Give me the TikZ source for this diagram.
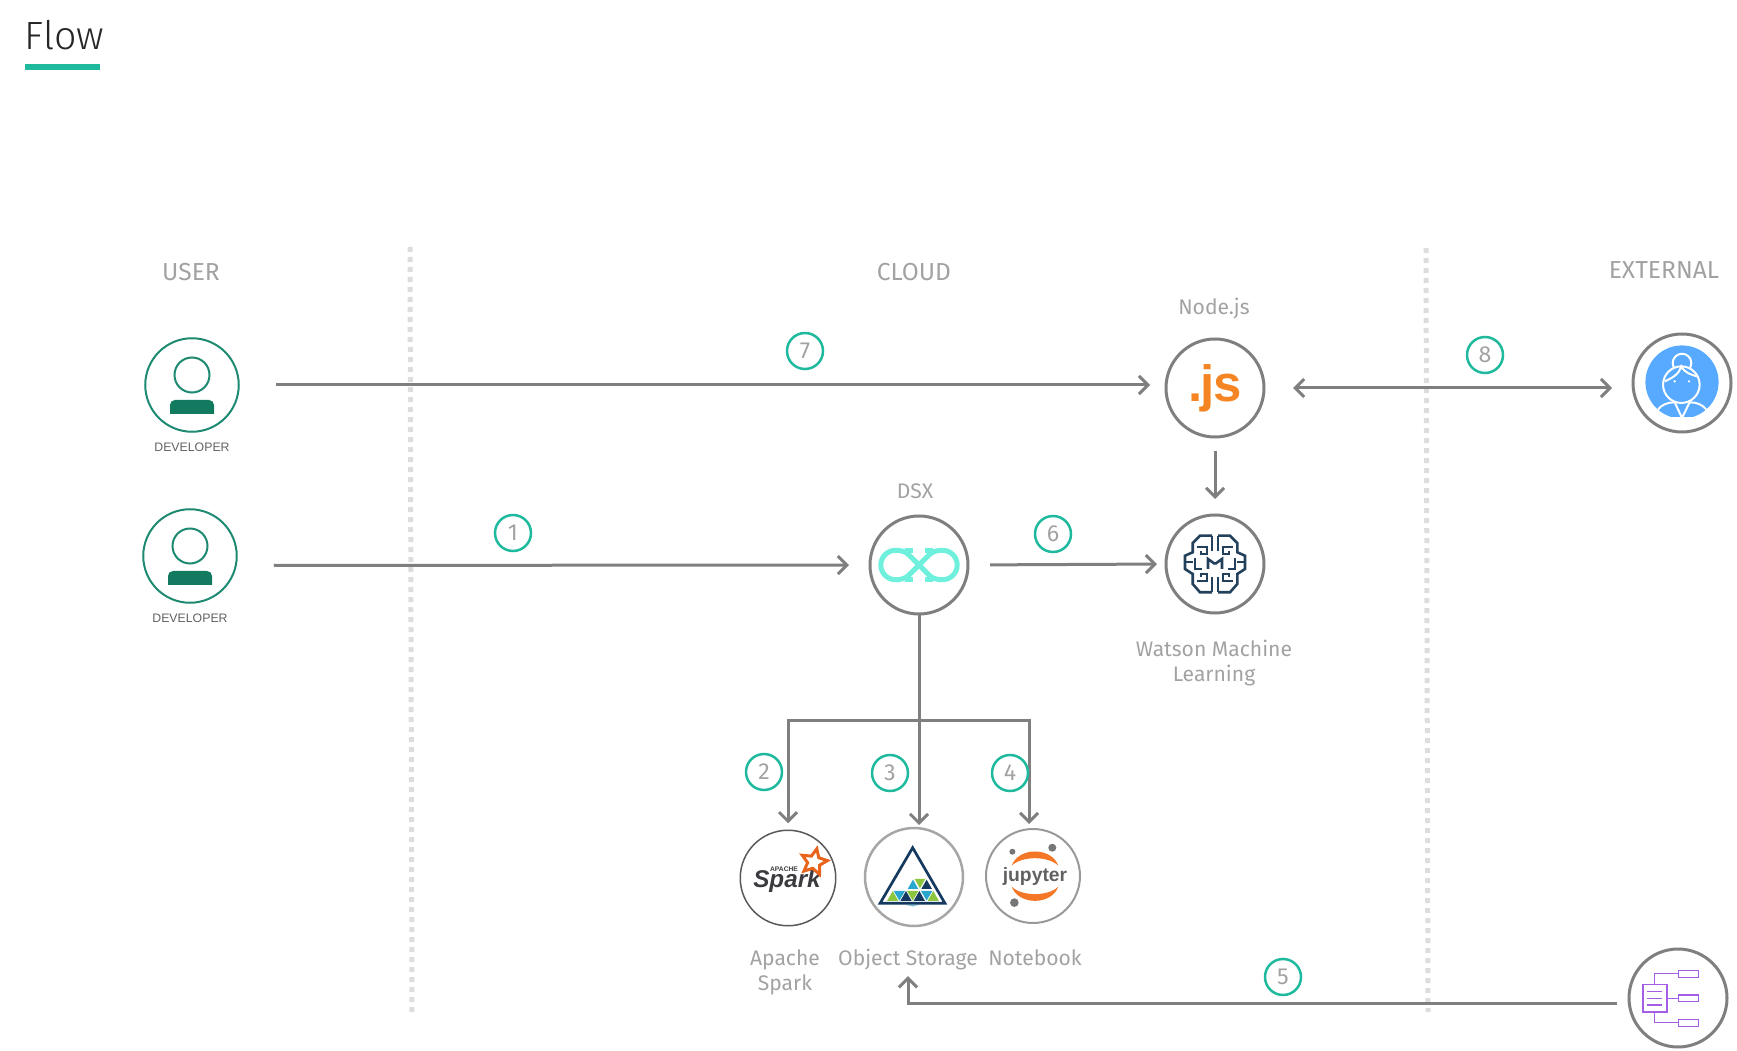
\documentclass[tikz,border=0pt]{standalone}
\usepackage{fontspec}
\setmainfont{Fira Sans}
\newfontfamily\thinfont{Fira Sans Light}
\newfontfamily\arialfont{Liberation Sans}
\usetikzlibrary{arrows.meta,shapes.geometric}
\definecolor{flowgray}{HTML}{7F7F7F}
\definecolor{labelgray}{HTML}{A2A2A2}
\definecolor{stepteal}{HTML}{1FB99E}
\definecolor{devgreen}{HTML}{1E8A72}
\definecolor{devbody}{HTML}{127A5E}
\definecolor{dividergray}{HTML}{DDDDDD}
\definecolor{dsxmint}{HTML}{6FF0DC}
\definecolor{brainnavy}{HTML}{23415B}
\definecolor{sparkorange}{HTML}{E8641B}
\definecolor{sparkdark}{HTML}{3C3A3E}
\definecolor{storenavy}{HTML}{15395F}
\definecolor{storegreen}{HTML}{8CC63F}
\definecolor{storecyan}{HTML}{2AA7CF}
\definecolor{jupyorange}{HTML}{F37726}
\definecolor{jupygray}{HTML}{767677}
\definecolor{userblue}{HTML}{57AAFF}
\definecolor{docpurple}{HTML}{A45EE5}
\tikzset{
	ringnode/.style={circle, draw=flowgray, line width=0.03cm, minimum size=0.98cm, inner sep=0, outer sep=0},
	devnode/.style={circle, draw=devgreen, line width=0.02cm, minimum size=0.935cm, inner sep=0, outer sep=0},
	stepnode/.style={circle, draw=stepteal, line width=0.025cm, minimum size=0.36cm, inner sep=0, text=labelgray, font=\fontsize{6.6}{7}\selectfont},
	flowlabel/.style={text=labelgray, inner sep=0, align=center, font=\fontsize{6}{7.1}\selectfont},
	zonelabel/.style={text=labelgray, inner sep=0, font=\fontsize{7}{8}\selectfont},
	devlabel/.style={text=black!62, inner sep=0, font=\arialfont\fontsize{3.5}{4}\selectfont},
	flowline/.style={draw=flowgray, line width=0.03cm},
	flowarrow/.style={flowline, -{Straight Barb[length=0.09cm,width=0.18cm]}},
	divider/.style={draw=dividergray, line width=0.05cm, dash pattern=on 0.05cm off 0.05cm},
	zoomed/.style={x=0.003333cm, y=-0.003333cm}
}

\begin{document}
\begin{tikzpicture}
		%%%%% START %%%%%
		\useasboundingbox (0, 0) rectangle (17.37, 10.5);
		
		\node[anchor=base west, inner sep=0, text=black!85, font=\thinfont\fontsize{11.2}{12}\selectfont] (flowtitle) at (0.24, 10.00) {Flow};
		\fill[stepteal] (0.25, 9.80) rectangle (1.00, 9.86);
		
		\draw[divider] (4.10, 8.03) -- (4.12, 0.38);
		\draw[divider] (14.26, 8.02) -- (14.28, 0.38);
		
		\node[zonelabel, anchor=base] (userlabel) at (1.91, 7.69) {USER};
		\node[zonelabel, anchor=base] (cloudlabel) at (9.14, 7.69) {CLOUD};
		\node[zonelabel, anchor=base] (externallabel) at (16.64, 7.71) {EXTERNAL};
		
		% people on the left
		\node[devnode] (devone) at (1.92, 6.65) {};
		\node[devnode] (devtwo) at (1.90, 4.94) {};
		\foreach \who in {devone, devtwo} {
			\draw[devgreen, line width=0.02cm] ([yshift=0.10cm]\who.center) circle (0.175);
			\fill[devbody, rounded corners=0.05cm] ([xshift=-0.22cm,yshift=-0.29cm]\who.center) -- ([xshift=-0.22cm,yshift=-0.15cm]\who.center) -- ([xshift=0.22cm,yshift=-0.15cm]\who.center) [sharp corners] -- ([xshift=0.22cm,yshift=-0.29cm]\who.center) -- cycle;
		}
		\node[devlabel] (devonelabel) at (1.92, 6.03) {DEVELOPER};
		\node[devlabel] (devtwolabel) at (1.90, 4.32) {DEVELOPER};
		
		% cloud services
		\node[ringnode, font=\arialfont\bfseries\fontsize{14.5}{15}\selectfont, text=jupyorange!90!yellow] (nodejs) at (12.15, 6.62) {.\kern-0.6pt j\kern-0.3pt s};
		\node[flowlabel, anchor=base] (nodejslabel) at (12.14, 7.35) {Node.js};
		
		\node[ringnode] (watson) at (12.15, 4.86) {};
		\node[flowlabel] (watsonlabel) at (12.14, 3.87) {Watson Machine\\Learning};
		
		\node[ringnode] (dsx) at (9.19, 4.85) {};
		\node[flowlabel, anchor=base] (dsxlabel) at (9.15, 5.51) {DSX};
		
		\begin{scope}[shift={(dsx.center)}, draw=dsxmint, line width=0.05cm]
			\foreach \side in {1, -1} {
				\draw[xscale=\side] (0, 0) -- (-0.10, 0.10) .. controls (-0.14, 0.14) and (-0.19, 0.147) .. (-0.235, 0.147) arc (90:270:0.147) .. controls (-0.19, -0.147) and (-0.14, -0.14) .. (-0.10, -0.10) -- cycle;
				\draw[xscale=\side] (-0.14, 0.147) -- (-0.06, 0.147);
				\draw[xscale=\side] (-0.14, -0.147) -- (-0.06, -0.147);
			}
		\end{scope}
		
		\begin{scope}[shift={(watson.center)}, draw=brainnavy, line width=0.026cm]
			\foreach \side in {1, -1} {
				\draw[xscale=\side] (-0.03, 0.283) -- (-0.15, 0.283) -- (-0.223, 0.21) -- (-0.223, 0.117) -- (-0.30, 0.083) -- (-0.30, -0.05) -- (-0.223, -0.10) -- (-0.223, -0.20) -- (-0.15, -0.283) -- (-0.03, -0.283);
				\draw[xscale=\side] (-0.03, 0.283) -- (-0.03, 0.13);
				\draw[xscale=\side] (-0.03, -0.283) -- (-0.03, -0.13);
				\draw[xscale=\side] (-0.18, 0.17) -- (-0.08, 0.17) -- (-0.08, 0.10) -- (-0.14, 0.10) -- (-0.14, 0.13);
				\draw[xscale=\side] (-0.18, -0.17) -- (-0.08, -0.17) -- (-0.08, -0.10) -- (-0.14, -0.10) -- (-0.14, -0.13);
				\draw[xscale=\side] (-0.30, 0.02) -- (-0.22, 0.02);
				\draw[xscale=\side] (-0.2, 0.06) -- (-0.2, -0.05) -- (-0.13, -0.05);
				\draw[xscale=\side] (-0.07, -0.05) -- (-0.07, 0.05) -- (0, 0);
			}
		\end{scope}
		
		\node[circle, draw=black!65, line width=0.015cm, minimum size=0.955cm, inner sep=0, outer sep=0] (spark) at (7.88, 1.72) {};
		\node[anchor=base, inner sep=0, text=sparkdark, font=\arialfont\bfseries\itshape\fontsize{6.9}{7}\selectfont] (sparkword) at (7.87, 1.63) {Spark};
		\node[inner sep=0, text=sparkdark, font=\arialfont\bfseries\fontsize{1.9}{2}\selectfont] (sparkapache) at (7.84, 1.81) {APACHE};
		\node[star, star points=5, star point ratio=2.1, draw=sparkorange, line width=0.03cm, minimum size=0.27cm, inner sep=0, rotate=-12] (sparkstar) at (8.14, 1.88) {};
		\node[flowlabel] (sparklabel) at (7.85, 0.78) {Apache\\Spark};
		
		\node[circle, draw=black!35, line width=0.025cm, minimum size=0.98cm, inner sep=0, outer sep=0] (objstore) at (9.14, 1.73) {};
		\begin{scope}[shift={(objstore.center)}, zoomed, shift={(-132, -126)}]
			\fill[storecyan!60] (105, 209) -- (150, 209) -- (128, 215) -- cycle;
			\draw[storenavy, line width=0.027cm, line join=miter] (128, 38) -- (225, 205) -- (30, 205) -- cycle;
			\foreach \tx/\col in {68/storegreen, 108/storenavy, 148/storenavy, 190/storegreen}
				\fill[\col] (\tx-17, 198) -- (\tx+17, 198) -- (\tx, 168) -- cycle;
			\foreach \tx/\col in {88/storecyan, 128/storegreen, 170/storecyan}
				\fill[\col] (\tx-17, 168) -- (\tx+17, 168) -- (\tx, 197) -- cycle;
			\fill[storecyan] (113, 162) -- (145, 162) -- (129, 134) -- cycle;
			\fill[storegreen] (134, 132) -- (166, 132) -- (150, 160) -- cycle;
			\fill[storenavy] (154, 162) -- (186, 162) -- (170, 134) -- cycle;
		\end{scope}
		\node[flowlabel, anchor=base] (objstorelabel) at (9.08, 0.85) {Object Storage};
		
		\node[circle, draw=black!40, line width=0.02cm, minimum size=0.94cm, inner sep=0, outer sep=0] (jupyter) at (10.33, 1.74) {};
		\begin{scope}[shift={(jupyter.center)}, zoomed, shift={(-129, -123)}]
			\fill[jupyorange] (65, 92) .. controls (85, 35) and (185, 35) .. (205, 92) .. controls (175, 62) and (95, 62) .. (65, 92) -- cycle;
			\fill[jupyorange] (65, 155) .. controls (85, 212) and (185, 212) .. (205, 155) .. controls (175, 185) and (95, 185) .. (65, 155) -- cycle;
			\fill[jupygray] (187, 38) circle (12);
			\fill[jupygray] (67, 50) circle (9);
			\fill[jupygray] (73, 203) circle (13);
		\end{scope}
		\node[anchor=base, inner sep=0, text=black!62, font=\arialfont\bfseries\fontsize{5.5}{6}\selectfont] (jupyterword) at (10.35, 1.69) {jupyter};
		\node[flowlabel, anchor=base] (jupyterlabel) at (10.35, 0.85) {Notebook};
		
		% external side
		\node[ringnode] (enduser) at (16.82, 6.67) {};
		\begin{scope}[shift={(enduser.center)}, zoomed, shift={(-307, -220)}, draw=white, line width=0.02cm]
			\clip (150, 50) rectangle (460, 322);
			\fill[userblue] (307, 217) circle (110);
			\draw (307, 160) circle (28);
			\fill[userblue] (305, 225) circle (55);
			\draw (305, 225) circle (55);
			\draw (255, 215) .. controls (280, 205) and (300, 190) .. (305, 170) .. controls (315, 190) and (335, 195) .. (352, 200);
			\draw (235, 300) .. controls (245, 285) and (265, 278) .. (285, 278) -- (307, 325) -- (330, 278) .. controls (350, 278) and (370, 285) .. (380, 300);
			\fill[white] (285, 215) circle (4);
			\fill[white] (328, 215) circle (4);
		\end{scope}
		
		\node[ringnode] (docs) at (16.78, 0.52) {};
		\begin{scope}[shift={(docs.center)}, zoomed, shift={(-235, -205)}, draw=docpurple, line width=0.012cm]
			\draw (130, 165) rectangle (202, 247);
			\draw (143, 186) -- (188, 186);
			\draw (143, 206) -- (188, 206);
			\draw (143, 226) -- (188, 226);
			\draw (165, 165) -- (165, 132) -- (237, 132);
			\draw (202, 206) -- (237, 206);
			\draw (165, 247) -- (165, 279) -- (237, 279);
			\draw (237, 123) rectangle (296, 143);
			\draw (237, 196) rectangle (296, 216);
			\draw (237, 270) rectangle (296, 290);
		\end{scope}
		
		% connectors
		\coordinate (fork) at (9.19, 3.30);
		\draw[flowarrow, shorten <=0.37cm, shorten >=0.16cm] (devone.east) -- (devone.east -| nodejs.west);
		\draw[flowarrow, shorten <=0.37cm, shorten >=0.21cm] ([yshift=-0.095cm]devtwo.east) -- (dsx.west);
		\draw[flowarrow, shorten <=0.22cm, shorten >=0.09cm] (dsx.east) -- (watson.west);
		\draw[flowarrow, shorten <=0.14cm, shorten >=0.16cm] (nodejs.south) -- (watson.north);
		\draw[flowarrow, {Straight Barb[length=0.09cm,width=0.18cm]}-{Straight Barb[length=0.09cm,width=0.18cm]}, shorten <=0.29cm, shorten >=0.21cm] (nodejs.east) -- (nodejs.east -| enduser.west);
		\draw[flowline] (dsx.south) -- (fork);
		\draw[flowarrow, shorten >=0.07cm] (fork) -| (spark.north);
		\draw[flowarrow, shorten >=0.03cm] (fork) -- (fork |- objstore.north);
		\draw[flowarrow, shorten >=0.05cm] (fork) -| ([xshift=-0.04cm]jupyter.north);
		\draw[flowarrow, shorten <=0.12cm, shorten >=0.06cm] ([yshift=-0.05cm]docs.west) -| (objstorelabel.south);
		
		% step numbers
		\node[stepnode] (stepone) at (5.13, 5.17) {1};
		\node[stepnode] (steptwo) at (7.64, 2.78) {2};
		\node[stepnode] (stepthree) at (8.90, 2.77) {3};
		\node[stepnode] (stepfour) at (10.10, 2.77) {4};
		\node[stepnode] (stepfive) at (12.83, 0.73) {5};
		\node[stepnode] (stepsix) at (10.53, 5.16) {6};
		\node[stepnode] (stepseven) at (8.05, 6.99) {7};
		\node[stepnode] (stepeight) at (14.85, 6.95) {8};
		%%%%% END %%%%%
	\end{tikzpicture}
\end{document}
